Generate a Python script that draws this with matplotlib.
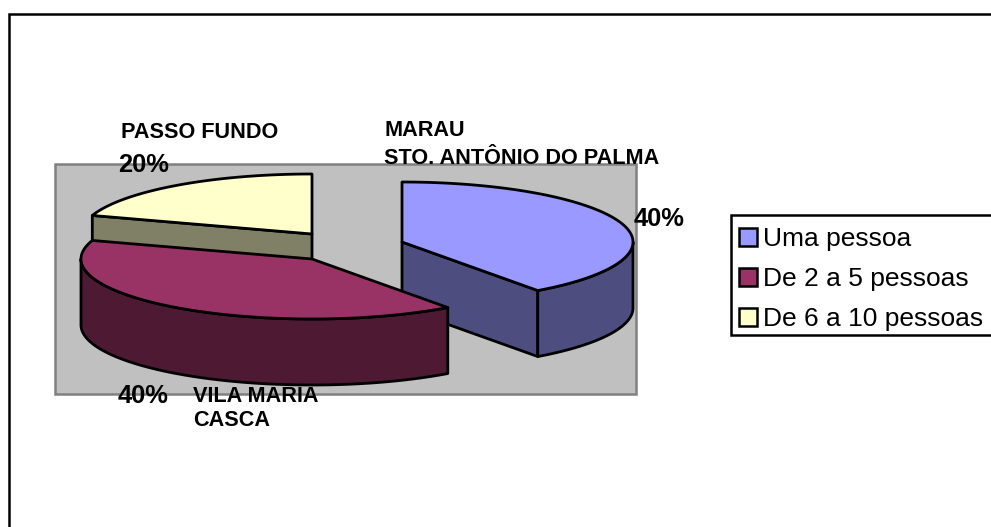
'''
3D style exploded pie, drawn by hand because matplotlib pie has no depth
'''
import numpy as np
import matplotlib.pyplot as plt
from matplotlib.patches import Polygon, Rectangle, Patch

plt.rcParams['font.family'] = ['Liberation Sans', 'DejaVu Sans']

categories = ['Uma pessoa', 'De 2 a 5 pessoas', 'De 6 a 10 pessoas']
shares     = [40, 40, 20]
pct_labels = ['40%', '40%', '20%']
top_colors  = ['#9999ff', '#993366', '#ffffcc']
side_colors = ['#4d4d80', '#4d1933', '#808066']

# apex of each exploded slice in image pixels
centers = [(402, 242), (312, 259), (312, 234)]
rx, ry, depth = 231, 60, 66
lw = 2.0

def rim(cx, cy, a0, a1, n=120):
    # angles in degrees, clockwise from 12 o'clock
    a = np.radians(np.linspace(a0, a1, n))
    return np.column_stack((cx + rx*np.sin(a), cy - ry*np.cos(a)))

def paint_slice(ax, cx, cy, a0, a1, top, side):
    # flat cut face on the left edge of the back slice
    if a0 >= 270:
        p0 = rim(cx, cy, a0, a0, 1)[0]
        ax.add_patch(Polygon([p0, (cx, cy), (cx, cy+depth), (p0[0], p0[1]+depth)], fc=side, ec='black', lw=lw, joinstyle='round'))
    # cut face at the end of the first slice
    if a0 == 0:
        p1 = rim(cx, cy, a1, a1, 1)[0]
        ax.add_patch(Polygon([(cx, cy), p1, (p1[0], p1[1]+depth), (cx, cy+depth)], fc=side, ec='black', lw=lw, joinstyle='round'))
    # outer wall, only the part facing the viewer
    w0, w1 = max(a0, 90), min(a1, 270)
    if w1 > w0:
        edge = rim(cx, cy, w0, w1)
        wall = np.vstack((edge, (edge + [0, depth])[::-1]))
        ax.add_patch(Polygon(wall, fc=side, ec='black', lw=lw, joinstyle='round'))
    # top face
    arc = rim(cx, cy, a0, a1)
    ax.add_patch(Polygon(np.vstack(([(cx, cy)], arc)), fc=top, ec='black', lw=lw, joinstyle='round'))

fig = plt.figure(figsize=(9.91, 5.27), dpi=100)
ax = fig.add_axes([0, 0, 1, 1])
ax.set_xlim(0, 991)
ax.set_ylim(527, 0)
ax.axis('off')

# chart frame, runs off the image at right and bottom
ax.plot([9, 9, 991], [527, 14, 14], color='black', lw=1.8, solid_joinstyle='miter')
# plot area
ax.add_patch(Rectangle((55, 164), 581, 230, fc='#c0c0c0', ec='#808080', lw=1.8))

edges = np.concatenate(([0], np.cumsum(shares))) / np.sum(shares) * 360
# back slice first, then the right one, front one on top
for i in [2, 0, 1]:
    paint_slice(ax, centers[i][0], centers[i][1], edges[i], edges[i+1], top_colors[i], side_colors[i])

# data labels
name_fs, pct_fs = 15.6, 18.4
ax.text(121, 133, 'PASSO FUNDO', fontsize=name_fs, fontweight='bold', va='center')
ax.text(118, 165, pct_labels[2], fontsize=pct_fs, fontweight='bold', va='center')
ax.text(384, 131, 'MARAU', fontsize=name_fs, fontweight='bold', va='center')
ax.text(384, 158, 'STO. ANTÔNIO DO PALMA', fontsize=name_fs, fontweight='bold', va='center')
ax.text(634, 219, pct_labels[0], fontsize=pct_fs, fontweight='bold', va='center')
ax.text(118, 396, pct_labels[1], fontsize=pct_fs, fontweight='bold', va='center')
ax.text(193, 396, 'VILA MARIA', fontsize=name_fs, fontweight='bold', va='center')
ax.text(193, 421, 'CASCA', fontsize=name_fs, fontweight='bold', va='center')

# legend, box goes past the right edge of the image
ax.add_patch(Rectangle((731, 215), 300, 120, fc='white', ec='black', lw=1.8, clip_on=True))
handles = [Patch(fc=top_colors[i], ec='black', lw=1.8, label=categories[i]) for i in range(3)]
ax.legend(handles=handles, loc='upper left', bbox_to_anchor=(727, 215), bbox_transform=ax.transData,
          fontsize=19, frameon=False,
          handlelength=0.68, handleheight=0.68, handletextpad=0.23, labelspacing=0.606, borderpad=0.45, borderaxespad=0)

plt.savefig('out.png', dpi=100)
